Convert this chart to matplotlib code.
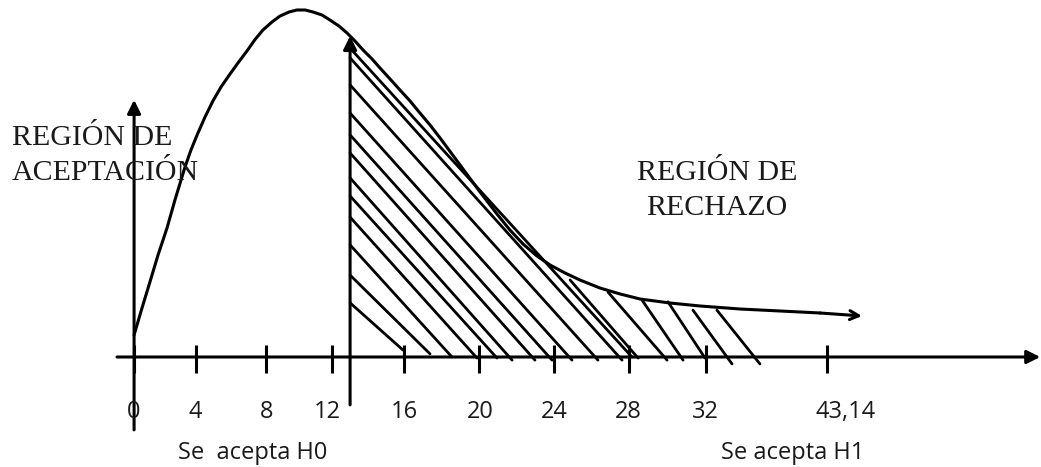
import matplotlib
matplotlib.use("Agg")
import matplotlib.pyplot as plt

# sketch of the chi-square style density (x in test-statistic units, y in % of peak)
curve_x = [0.56, 1.0, 1.44, 1.89, 2.39, 2.83, 3.39, 3.72, 4.06, 4.5, 4.94,
           5.39, 5.89, 6.33, 6.83, 7.28, 7.72, 8.22, 8.67, 9.17, 9.61, 10.06,
           10.5, 11.0, 11.44, 11.94, 12.39, 12.83, 13.28, 13.78, 14.22, 14.78,
           15.33, 15.89, 16.44, 17.0, 17.56, 18.67, 19.78, 20.72, 21.44,
           22.17, 22.94, 23.67, 24.5, 25.33, 26.44, 27.56, 28.67, 30.33,
           32.0, 34.22, 36.44, 38.67, 41.0]
curve_y = [6.34, 14.12, 21.61, 29.39, 37.18, 45.24, 54.76, 59.65, 63.98,
           69.16, 73.78, 77.81, 81.56, 84.73, 88.18, 91.5, 94.24, 96.54,
           98.27, 99.42, 100.0, 100.0, 99.42, 98.56, 97.12, 95.39, 93.37,
           91.07, 88.47, 85.88, 83.29, 80.12, 76.95, 73.78, 70.32, 66.86,
           63.11, 55.33, 47.55, 41.21, 36.6, 32.56, 29.11, 26.51, 24.21,
           22.19, 19.88, 18.16, 16.71, 15.56, 14.7, 13.83, 13.26, 12.68, 11.82]

# hand drawn hatching of the rejection region (start -> end of each stroke)
hatch_x0 = [12.56, 12.56, 12.56, 12.56, 12.56, 12.56, 12.56, 12.56, 12.56,
            12.56, 12.56, 12.56, 24.78, 26.89, 28.78, 30.22, 31.61, 32.94]
hatch_y0 = [15.6, 23.6, 32.3, 40.3, 46.4, 51.6, 58.8, 64.0, 70.3,
            78.4, 86.2, 89.0, 22.2, 18.7, 16.4, 15.9, 13.5, 13.5]
hatch_x1 = [15.5, 17.0, 18.22, 19.61, 20.72, 21.56, 22.83, 23.78, 24.89,
            26.33, 27.67, 28.22, 28.56, 30.17, 31.06, 32.28, 33.78, 35.33]
hatch_y1 = [2.0, 0.9, 0.0, -0.3, -0.3, -0.9, -0.9, -0.9, -0.9,
            -0.9, -0.9, 0.0, -0.3, -0.9, -0.9, -0.3, -2.0, -2.0]

critical = 12.56
tick_pos = [0.56, 4.0, 7.89, 11.56, 15.56, 19.72, 23.89, 28.06, 32.33, 39.06]
tick_labels = ["0", "4", "8", "12", "16", "20", "24", "28", "32", "43,14"]
label_pos = [0.56, 3.95, 7.9, 11.3, 15.6, 19.8, 23.9, 28.0, 32.3, 40.1]

fig = plt.figure(figsize=(10.41, 4.67), dpi=100)
ax = fig.add_axes([0, 0, 1, 1])
ax.set_xlim(-6.889, 50.944)
ax.set_ylim(-31.7, 102.88)
ax.axis("off")

lw = 2.2
arrow = dict(arrowstyle="-|>", color="black", lw=lw, mutation_scale=20,
             shrinkA=0, shrinkB=0)

# axes
ax.annotate("", xy=(50.9, 0), xytext=(-0.39, 0), arrowprops=arrow)
ax.annotate("", xy=(0.56, 74.1), xytext=(0.56, -21.0), arrowprops=arrow)
ax.annotate("", xy=(critical, 92.5), xytext=(critical, -13.8), arrowprops=arrow)

# ticks and labels
for p in tick_pos:
    ax.plot([p, p], [-4.6, 3.6], color="black", lw=lw, solid_capstyle="butt")
for p, t in zip(label_pos, tick_labels):
    ax.text(p, -15.9, t, ha="center", va="center", fontsize=17,
            family="Open Sans", color="#1a1a1a")

# density curve
ax.plot(curve_x[:-1], curve_y[:-1], color="black", lw=lw,
        solid_joinstyle="round", solid_capstyle="round")
ax.annotate("", xy=(curve_x[-1], curve_y[-1]), xytext=(curve_x[-2], curve_y[-2]),
            arrowprops=dict(arrowstyle="->", color="black", lw=lw,
                            mutation_scale=16, shrinkA=0, shrinkB=0))

# hatching
for x0, y0, x1, y1 in zip(hatch_x0, hatch_y0, hatch_x1, hatch_y1):
    ax.plot([x0, x1], [y0, y1], color="black", lw=2.0, solid_capstyle="round")

serif = dict(fontsize=21.5, family="Liberation Serif", color="#1a1a1a",
             va="center")
ax.text(-6.22, 63.1, "REGIÓN DE", ha="left", **serif)
ax.text(-6.22, 53.0, "ACEPTACIÓN", ha="left", **serif)
ax.text(32.94, 53.0, "REGIÓN DE", ha="center", **serif)
ax.text(32.94, 42.9, "RECHAZO", ha="center", **serif)

ax.text(7.17, -27.7, "Se  acepta H0", ha="center", va="center", fontsize=17,
        family="Open Sans", color="#1a1a1a")
ax.text(37.17, -27.7, "Se acepta H1", ha="center", va="center", fontsize=17,
        family="Open Sans", color="#1a1a1a")

fig.savefig("out.png", dpi=100)
